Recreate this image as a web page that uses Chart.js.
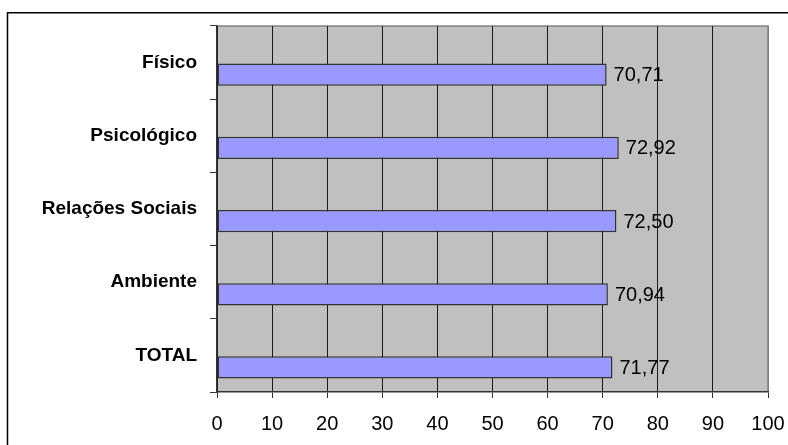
<!DOCTYPE html>
<html>
<head>
<meta charset="utf-8">
<script src="https://cdn.jsdelivr.net/npm/chart.js@4/dist/chart.umd.min.js"></script>
<style>
  html, body { margin: 0; padding: 0; background: #ffffff; }
  #wrap { width: 788px; height: 445px; }
</style>
</head>
<body>
<div id="wrap"><canvas id="c" width="788" height="445"></canvas></div>
<script>
// Domain scores (0–100)
const categories = ['Físico', 'Psicológico', 'Relações Sociais', 'Ambiente', 'TOTAL'];
const scores = [70.71, 72.92, 72.50, 70.94, 71.77];
const xTicks = [0, 10, 20, 30, 40, 50, 60, 70, 80, 90, 100];

const FONT = 'Arial, "Liberation Sans", sans-serif';

// Gray plot background plus the light frame on top and right
const plotFrame = {
  id: 'plotFrame',
  beforeDraw(chart) {
    const { ctx, chartArea: a } = chart;
    ctx.save();
    ctx.fillStyle = '#c0c0c0';
    ctx.fillRect(a.left, a.top, a.right - a.left, a.bottom - a.top);
    ctx.strokeStyle = '#808080';
    ctx.lineWidth = 1.5;
    ctx.beginPath();
    ctx.moveTo(a.left, a.top);
    ctx.lineTo(a.right, a.top);
    ctx.lineTo(a.right, a.bottom);
    ctx.stroke();
    ctx.restore();
  },
  afterDraw(chart) {
    // outer chart border
    const ctx = chart.ctx;
    ctx.save();
    ctx.strokeStyle = '#000000';
    ctx.lineWidth = 1.5;
    ctx.strokeRect(7.5, 12.75, 800, 450);
    ctx.restore();
  }
};

// Value labels to the right of each bar
const valueLabels = {
  id: 'valueLabels',
  afterDatasetsDraw(chart) {
    const ctx = chart.ctx;
    const meta = chart.getDatasetMeta(1);
    ctx.save();
    ctx.font = '20px ' + FONT;
    ctx.fillStyle = '#000000';
    ctx.textAlign = 'left';
    ctx.textBaseline = 'middle';
    meta.data.forEach((bar, i) => {
      const v = chart.data.datasets[1].data[i];
      ctx.fillText(v.toFixed(2).replace('.', ','), bar.x + 7, bar.y + 1);
    });
    ctx.restore();
  }
};

new Chart(document.getElementById('c'), {
  type: 'bar',
  data: {
    labels: categories,
    datasets: [
      { label: 'spacer', data: categories.map(() => null) },
      {
        label: 'Escore',
        data: scores,
        backgroundColor: '#9999ff',
        borderColor: '#333333',
        borderWidth: 1.5,
        borderSkipped: false
      }
    ]
  },
  options: {
    indexAxis: 'y',
    responsive: false,
    animation: false,
    devicePixelRatio: 1,
    categoryPercentage: 0.66,
    barPercentage: 0.92,
    layout: { padding: { top: 26, right: 20, left: 0, bottom: 0 } },
    plugins: { legend: { display: false }, tooltip: { enabled: false } },
    scales: {
      x: {
        min: 0,
        max: 100,
        afterBuildTicks(scale) { scale.ticks = xTicks.map(v => ({ value: v })); },
        afterFit(scale) {
          scale.height = 53;
          scale.paddingLeft = 0;
          scale.paddingRight = 0;
        },
        border: { color: '#333333', width: 1.5 },
        grid: {
          color: ctx => (ctx.tick && ctx.tick.value === 100) ? '#808080' : '#1a1a1a',
          lineWidth: 1,
          drawTicks: true,
          tickLength: 6,
          tickColor: '#333333'
        },
        ticks: {
          color: '#000000',
          font: { family: FONT, size: 20 },
          padding: 14,
          maxRotation: 0
        }
      },
      y: {
        afterFit(scale) {
          scale.width = 217;
          scale.paddingTop = 0;
          scale.paddingBottom = 0;
        },
        border: { color: '#333333', width: 1.5 },
        grid: {
          drawOnChartArea: false,
          drawTicks: true,
          tickLength: 7,
          tickColor: '#333333',
          offset: true
        },
        ticks: {
          color: '#000000',
          font: { family: FONT, size: 19, weight: 'bold' },
          padding: 13
        }
      }
    }
  },
  plugins: [plotFrame, valueLabels]
});
</script>
</body>
</html>
